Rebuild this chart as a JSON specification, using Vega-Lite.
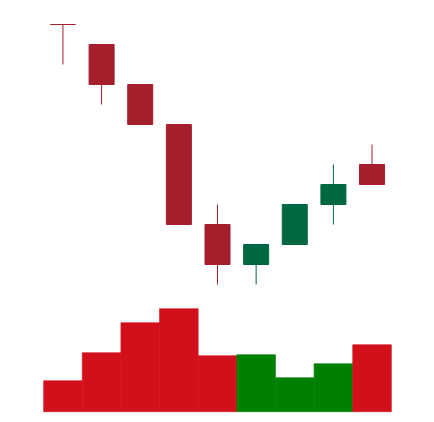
{
  "$schema": "https://vega.github.io/schema/vega-lite/v6.json",
  "width": 434,
  "height": 422,
  "autosize": {"type": "fit", "contains": "padding"},
  "padding": {"left": 5, "right": 4, "top": 0, "bottom": 0},
  "background": "white",
  "config": {"view": {"stroke": null}},
  "data": {
    "values": [
      {"day": "D1", "open": 50, "high": 50, "low": 46, "close": 50, "volume": 31},
      {"day": "D2", "open": 48, "high": 48, "low": 42, "close": 44, "volume": 59},
      {"day": "D3", "open": 44, "high": 44, "low": 40, "close": 40, "volume": 89},
      {"day": "D4", "open": 40, "high": 40, "low": 30, "close": 30, "volume": 103},
      {"day": "D5", "open": 30, "high": 32, "low": 24, "close": 26, "volume": 56},
      {"day": "D6", "open": 26, "high": 28, "low": 24, "close": 28, "volume": 57},
      {"day": "D7", "open": 28, "high": 32, "low": 28, "close": 32, "volume": 34},
      {"day": "D8", "open": 32, "high": 36, "low": 30, "close": 34, "volume": 48},
      {"day": "D9", "open": 36, "high": 38, "low": 34, "close": 34, "volume": 67}
    ]
  },
  "encoding": {
    "x": {
      "field": "day",
      "type": "ordinal",
      "axis": null,
      "scale": {"paddingInner": 0, "paddingOuter": 1}
    }
  },
  "layer": [
    {
      "mark": {"type": "bar", "width": {"band": 1}, "strokeWidth": 0.6},
      "encoding": {
        "y": {"field": "volume", "type": "quantitative", "axis": null, "scale": {"domain": [-10.3, 411.7], "nice": false, "zero": false}},
        "color": {"condition": {"test": "datum.close > datum.open", "value": "#008000"}, "value": "#d2101b"},
        "stroke": {"condition": {"test": "datum.close > datum.open", "value": "#008000"}, "value": "#d2101b"}
      }
    },
    {
      "layer": [
        {
          "mark": {"type": "rule", "strokeWidth": 1},
          "encoding": {
            "y": {"field": "low", "type": "quantitative", "axis": null, "scale": {"domain": [10.25, 52.45], "nice": false, "zero": false}},
            "y2": {"field": "high"},
            "color": {"condition": {"test": "datum.close > datum.open", "value": "#006840"}, "value": "#a51e2c"}
          }
        },
        {
          "mark": {"type": "bar", "size": 25, "strokeWidth": 1},
          "encoding": {
            "y": {"field": "open", "type": "quantitative", "axis": null, "scale": {"domain": [10.25, 52.45], "nice": false, "zero": false}},
            "y2": {"field": "close"},
            "color": {"condition": {"test": "datum.close > datum.open", "value": "#006840"}, "value": "#a51e2c"},
            "stroke": {"condition": {"test": "datum.close > datum.open", "value": "#006840"}, "value": "#a51e2c"}
          }
        }
      ]
    }
  ],
  "resolve": {"scale": {"y": "independent"}}
}
